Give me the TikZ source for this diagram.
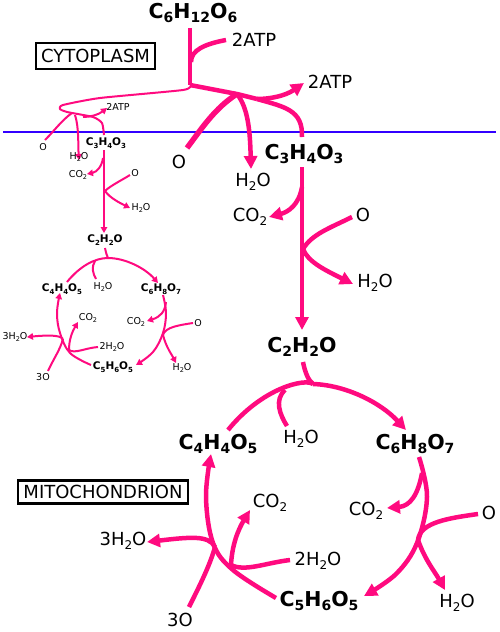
\documentclass[tikz,border=0pt]{standalone}
\usepackage{fontspec}
\setmainfont{DejaVu Sans}
\usetikzlibrary{arrows.meta}
\definecolor{pathpink}{HTML}{FF0A7F}
\definecolor{memblue}{HTML}{3300FF}
\newcommand\lowtxt[2]{\raisebox{-#1}{\fontsize{\subsz}{\subsz}\selectfont #2}}
\newcommand\lo[1]{\lowtxt{.22em}{#1}}
\newcommand\subsz{10}
\tikzset{
  lbl/.style={inner sep=0pt,text=black,font=\fontsize{18}{18}\selectfont,execute at begin node={\renewcommand\subsz{12}}},
  mol/.style={inner sep=0pt,text=black,font=\fontsize{20.5}{20.5}\selectfont\bfseries,execute at begin node={\renewcommand\subsz{14}}},
  slbl/.style={inner sep=0pt,text=black,font=\fontsize{9.5}{9.5}\selectfont,execute at begin node={\renewcommand\subsz{6.5}}},
  smol/.style={inner sep=0pt,text=black,font=\fontsize{10.5}{10.5}\selectfont\bfseries,execute at begin node={\renewcommand\subsz{7}}},
  titlebox/.style={draw=black,line width=2.6pt,inner sep=0pt,text=black,font=\fontsize{18}{18}\selectfont},
  bigp/.style={draw=pathpink,line width=4.5pt,line join=round},
  bigar/.style={bigp,-{Triangle[length=13pt,width=13pt]}},
  smp/.style={draw=pathpink,line width=2pt,line join=round},
  smar/.style={smp,-{Triangle[length=6pt,width=6.5pt]}},
}
\begin{document}
\begin{tikzpicture}[x=1pt,y=-1pt]
\useasboundingbox (0,0) rectangle (500,632);
% membrane
\coordinate (memL) at (3,132); \coordinate (memR) at (496,132);
\draw[memblue,line width=2pt] (memL) -- (memR);
% ---- junctions large
\coordinate (a0) at (190,28); \coordinate (a1) at (190,85);
\coordinate (a2) at (191,62); \coordinate (a3) at (226,40);
\coordinate (a4) at (237,94); \coordinate (a5) at (257,99);
\coordinate (a6) at (302,137); \coordinate (a7) at (304,83);
\coordinate (a8) at (187,148); \coordinate (a9) at (251,169);
\coordinate (b0) at (302,167); \coordinate (b1) at (302,330);
\coordinate (b2) at (302,187); \coordinate (b3) at (269,217);
\coordinate (b4) at (352,217); \coordinate (b5) at (303,249);
\coordinate (b6) at (353,284);
\coordinate (c0) at (303,362); \coordinate (c1) at (313,384);
\coordinate (c2) at (228,430); \coordinate (c3) at (406,430);
\coordinate (c4) at (285,390); \coordinate (c5) at (287,426);
\coordinate (d0) at (419,457); \coordinate (d1) at (364,596);
\coordinate (d2) at (422,473); \coordinate (d3) at (387,508);
\coordinate (d4) at (478,514); \coordinate (d5) at (418,540);
\coordinate (d6) at (445,590);
\coordinate (e0) at (276,598); \coordinate (e1) at (211,454);
\coordinate (e2) at (215,547); \coordinate (e3) at (147,542);
\coordinate (e4) at (189,607); \coordinate (e5) at (231,565);
\coordinate (e6) at (250,510); \coordinate (e7) at (290,560);
% ---- large paths
\draw[bigp] (a0) -- (a1);
\draw[bigp] (a2) .. controls (191,50) and (205,44) .. (a3);
\draw[bigp] (a1) -- (a4) -- (a5);
\draw[bigp] (a5) .. controls (285,107) and (303,110) .. (a6);
\draw[bigar] (a5) .. controls (270,99) and (285,96) .. (a7);
\draw[bigp,line width=5.5pt] (a8) .. controls (202,128) and (215,108) .. (a4);
\draw[bigar] (a4) .. controls (248,108) and (250,130) .. (a9);
\draw[bigar] (b0) -- (b1);
\draw[bigar] (b2) .. controls (299,205) and (288,212) .. (b3);
\draw[bigp] (b4) .. controls (330,228) and (312,234) .. (b5);
\draw[bigar] (b5) .. controls (308,262) and (325,270) .. (b6);
\draw[bigp] (c0) .. controls (305,372) and (308,380) .. (c1);
\draw[bigp] (c2) .. controls (262,388) and (305,378) .. (c1);
\draw[bigar] (c1) .. controls (345,385) and (380,402) .. (c3);
\draw[bigp] (c4) .. controls (274,400) and (280,415) .. (c5);
\draw[bigar] plot[smooth,tension=.6] coordinates {(d0) (427,497) (417,543) (396,574) (d1)};
\draw[bigar] (d2) .. controls (418,495) and (410,506) .. (d3);
\draw[bigp] (d4) .. controls (450,518) and (420,522) .. (d5);
\draw[bigar] (d5) .. controls (425,560) and (435,572) .. (d6);
\draw[bigar] plot[smooth,tension=.6] coordinates {(e0) (233,570) (213,543) (206,497) (e1)};
\draw[bigar] (e2) .. controls (209,535) and (190,537) .. (e3);
\draw[bigp] (e4) .. controls (200,585) and (210,565) .. (e2);
\draw[bigar] (e5) .. controls (232,545) and (238,530) .. (e6);
\draw[bigp] (e7) .. controls (265,563) and (245,572) .. (e5);
% ---- junctions small
\coordinate (f0) at (104,135); \coordinate (f1) at (191,85);
\coordinate (f2) at (83,117); \coordinate (f3) at (107,108);
\coordinate (f4) at (45,140); \coordinate (f5) at (72,113);
\coordinate (f6) at (75,115); \coordinate (f7) at (79,160);
\coordinate (g0) at (104,150); \coordinate (g1) at (104,233);
\coordinate (g2) at (103,158); \coordinate (g3) at (87,174);
\coordinate (g4) at (130,175); \coordinate (g5) at (105,191);
\coordinate (g6) at (130,208);
\coordinate (h0) at (105,248); \coordinate (h1) at (108,258);
\coordinate (h2) at (67,282); \coordinate (h3) at (158,283);
\coordinate (h4) at (95,261); \coordinate (h5) at (96,279);
\coordinate (i0) at (163,295); \coordinate (i1) at (136,365);
\coordinate (i2) at (166,302); \coordinate (i3) at (147,321);
\coordinate (i4) at (193,323); \coordinate (i5) at (163,335);
\coordinate (i6) at (176,363);
\coordinate (j0) at (91,365); \coordinate (j1) at (60,293);
\coordinate (j2) at (63,339); \coordinate (j3) at (27,337);
\coordinate (j4) at (48,371); \coordinate (j5) at (69,350);
\coordinate (j6) at (78,322); \coordinate (j7) at (98,347);
% ---- small paths
\draw[smp] plot[smooth,tension=.35] coordinates {(f1) (183,90) (100,98) (63,105) (60,109) (67,112) (93,117) (102,123) (f0)};
\draw[smar] (f2) .. controls (90,117) and (98,115) .. (f3);
\draw[smp] (f4) .. controls (55,130) and (62,120) .. (f5);
\draw[smar] (f6) .. controls (79,127) and (78,145) .. (f7);
\draw[smar] (g0) -- (g1);
\draw[smar] (g2) .. controls (102,166) and (97,172) .. (g3);
\draw[smp] (g4) .. controls (122,180) and (110,186) .. (g5);
\draw[smar] (g5) .. controls (110,198) and (120,203) .. (g6);
\draw[smp] (h0) .. controls (106,253) and (107,256) .. (h1);
\draw[smp] (h2) .. controls (80,266) and (95,258) .. (h1);
\draw[smar] (h1) .. controls (125,258) and (145,268) .. (h3);
\draw[smp] (h4) .. controls (91,267) and (93,274) .. (h5);
\draw[smar] plot[smooth,tension=.6] coordinates {(i0) (166,313) (163,333) (153,352) (i1)};
\draw[smar] (i2) .. controls (165,312) and (160,317) .. (i3);
\draw[smp] (i4) .. controls (180,325) and (165,327) .. (i5);
\draw[smar] (i5) .. controls (166,347) and (172,355) .. (i6);
\draw[smar] plot[smooth,tension=.6] coordinates {(j0) (70,353) (60,333) (57,313) (j1)};
\draw[smar] (j2) .. controls (60,335) and (48,335) .. (j3);
\draw[smp] (j4) .. controls (54,358) and (60,350) .. (j2);
\draw[smar] (j5) .. controls (69,340) and (72,332) .. (j6);
\draw[smp] (j7) .. controls (85,348) and (75,354) .. (j5);
% ---- boxes
\node[titlebox,minimum width=119pt,minimum height=26pt] (cyto) at (95.5,56) {CYTOPLASM};
\node[titlebox,minimum width=170pt,minimum height=22.5pt] (mito) at (103,492) {MITOCHONDRION};
% ---- large labels
\node[mol] (glu) at (193,13) {C\lo{6}H\lo{12}O\lo{6}};
\node[lbl] (atpA) at (254,40) {2ATP};
\node[lbl] (atpB) at (330,82) {2ATP};
\node[lbl] (oA) at (179,162) {O};
\node[lbl] (wA) at (253,182) {H\lo{2}O};
\node[mol] (pyr) at (304,154) {C\lo{3}H\lo{4}O\lo{3}};
\node[lbl] (cA) at (250,217) {CO\lo{2}};
\node[lbl] (oB) at (363,215) {O};
\node[lbl] (wB) at (375,283) {H\lo{2}O};
\node[mol] (ace) at (302,347) {C\lo{2}H\lo{2}O};
\node[lbl] (wC) at (301,439) {H\lo{2}O};
\node[mol] (oxa) at (218,444) {C\lo{4}H\lo{4}O\lo{5}};
\node[mol] (cit) at (415,444) {C\lo{6}H\lo{8}O\lo{7}};
\node[lbl] (cB) at (366,511) {CO\lo{2}};
\node[lbl] (oC) at (489,513) {O};
\node[lbl] (wD) at (457,603) {H\lo{2}O};
\node[mol] (mal) at (319,601) {C\lo{5}H\lo{6}O\lo{5}};
\node[lbl] (wE) at (123,541) {3H\lo{2}O};
\node[lbl] (oD) at (180,620) {3O};
\node[lbl] (cC) at (270,503) {CO\lo{2}};
\node[lbl] (wF) at (318,561) {2H\lo{2}O};
% ---- small labels
\node[slbl] (satp) at (118,107) {2ATP};
\node[slbl] (soA) at (43,147) {O};
\node[slbl] (swA) at (79,157) {H\lo{2}O};
\node[smol] (spyr) at (106,143) {C\lo{3}H\lo{4}O\lo{3}};
\node[slbl] (scA) at (78,175) {CO\lo{2}};
\node[slbl] (soB) at (135,173) {O};
\node[slbl] (swB) at (141,208) {H\lo{2}O};
\node[smol] (sace) at (105,240) {C\lo{2}H\lo{2}O};
\node[slbl] (swC) at (103,287) {H\lo{2}O};
\node[smol] (soxa) at (62,289) {C\lo{4}H\lo{4}O\lo{5}};
\node[smol] (scit) at (161,289) {C\lo{6}H\lo{8}O\lo{7}};
\node[slbl] (scB) at (136,322) {CO\lo{2}};
\node[slbl] (soC) at (198,323) {O};
\node[slbl] (swD) at (182,368) {H\lo{2}O};
\node[smol] (smal) at (113,367) {C\lo{5}H\lo{6}O\lo{5}};
\node[slbl] (swE) at (15,337) {3H\lo{2}O};
\node[slbl] (soD) at (43,377) {3O};
\node[slbl] (scC) at (88,318) {CO\lo{2}};
\node[slbl] (swF) at (112,347) {2H\lo{2}O};
\end{tikzpicture}
\end{document}
